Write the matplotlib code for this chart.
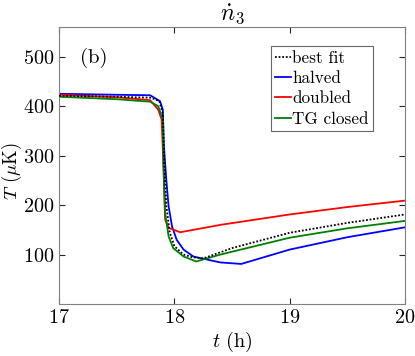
import matplotlib
matplotlib.use("Agg")
import matplotlib.pyplot as plt

plt.rcParams['font.family'] = 'serif'
plt.rcParams['font.serif'] = ['cmr10']
plt.rcParams['mathtext.fontset'] = 'cm'
plt.rcParams['axes.formatter.use_mathtext'] = True

# best fit (black dotted)
t_fit = [17.0, 17.5, 17.8, 17.87, 17.9, 17.91, 17.93, 17.96, 18.0, 18.08, 18.15, 18.25, 18.5, 19.0, 19.5, 20.0]
T_fit = [421, 419, 417, 410, 385, 300, 200, 145, 117, 100, 95, 92, 113, 144, 164, 181]
# halved (blue)
t_half = [17.0, 17.5, 17.79, 17.876, 17.9, 17.91, 17.93, 17.95, 17.98, 18.02, 18.08, 18.165, 18.28, 18.4, 18.58, 19.0, 19.5, 20.0]
T_half = [425, 423, 422, 410, 393, 319, 252, 198, 157, 130, 110, 96, 90, 84, 81, 110, 135, 155]
# doubled (red)
t_dbl = [17.0, 17.5, 17.79, 17.86, 17.89, 17.905, 17.92, 17.95, 18.05, 18.4, 19.0, 19.5, 20.0]
T_dbl = [423, 418, 412, 393, 373, 285, 171, 154, 145, 160, 181, 196, 209]
# TG closed (green)
t_tg = [17.0, 17.5, 17.79, 17.86, 17.9, 17.905, 17.92, 17.95, 17.99, 18.08, 18.19, 18.4, 19.0, 19.5, 20.0]
T_tg = [419, 414, 409, 400, 373, 285, 184, 137, 113, 96, 86, 100, 134, 153, 168]

fig = plt.figure(figsize=(4.15, 3.56), dpi=100)
ax = fig.add_axes([59/415, 1 - 304/356, 346/415, 277/356])

ax.plot(t_fit, T_fit, color='k', linestyle=(0, (1, 1)), linewidth=1.3, label='best fit', zorder=5)
ax.plot(t_half, T_half, color='#0000ff', linewidth=1.3, label='halved')
ax.plot(t_dbl, T_dbl, color='#ff0000', linewidth=1.3, label='doubled')
ax.plot(t_tg, T_tg, color='#008000', linewidth=1.3, label='TG closed')

ax.set_xlim(17, 20)
ax.set_ylim(0, 560)
ax.set_xticks([17, 18, 19, 20])
ax.set_yticks([100, 200, 300, 400, 500])
ax.tick_params(direction='in', top=True, right=True, labelsize=14.5, colors='#262626', length=4)
for lab in ax.get_xticklabels() + ax.get_yticklabels():
    lab.set_color('k')
for s in ax.spines.values():
    s.set_color('#808080')

ax.set_xlabel('$t$ (h)', fontsize=14.5, labelpad=2)
ax.set_ylabel('$T$ ($\\mu$K)', fontsize=13.5)
ax.yaxis.label.set_va('center')
ax.yaxis.set_label_coords(-0.135, 0.48)
ax.set_title('$\\dot{n}_3$', fontsize=17, pad=4)
ax.text(17.18, 497, '(b)', fontsize=15, va='center')

leg = ax.legend(loc='upper right', bbox_to_anchor=((373 - 59)/346, 1 - (46 - 27)/277),
                fontsize=12.3, handlelength=0.9, handletextpad=0.1, borderpad=0.25,
                labelspacing=0.3, borderaxespad=0, fancybox=False, frameon=True)
leg.get_frame().set_edgecolor('#404040')
leg.get_frame().set_linewidth(0.8)

fig.savefig('out.png', dpi=100)
